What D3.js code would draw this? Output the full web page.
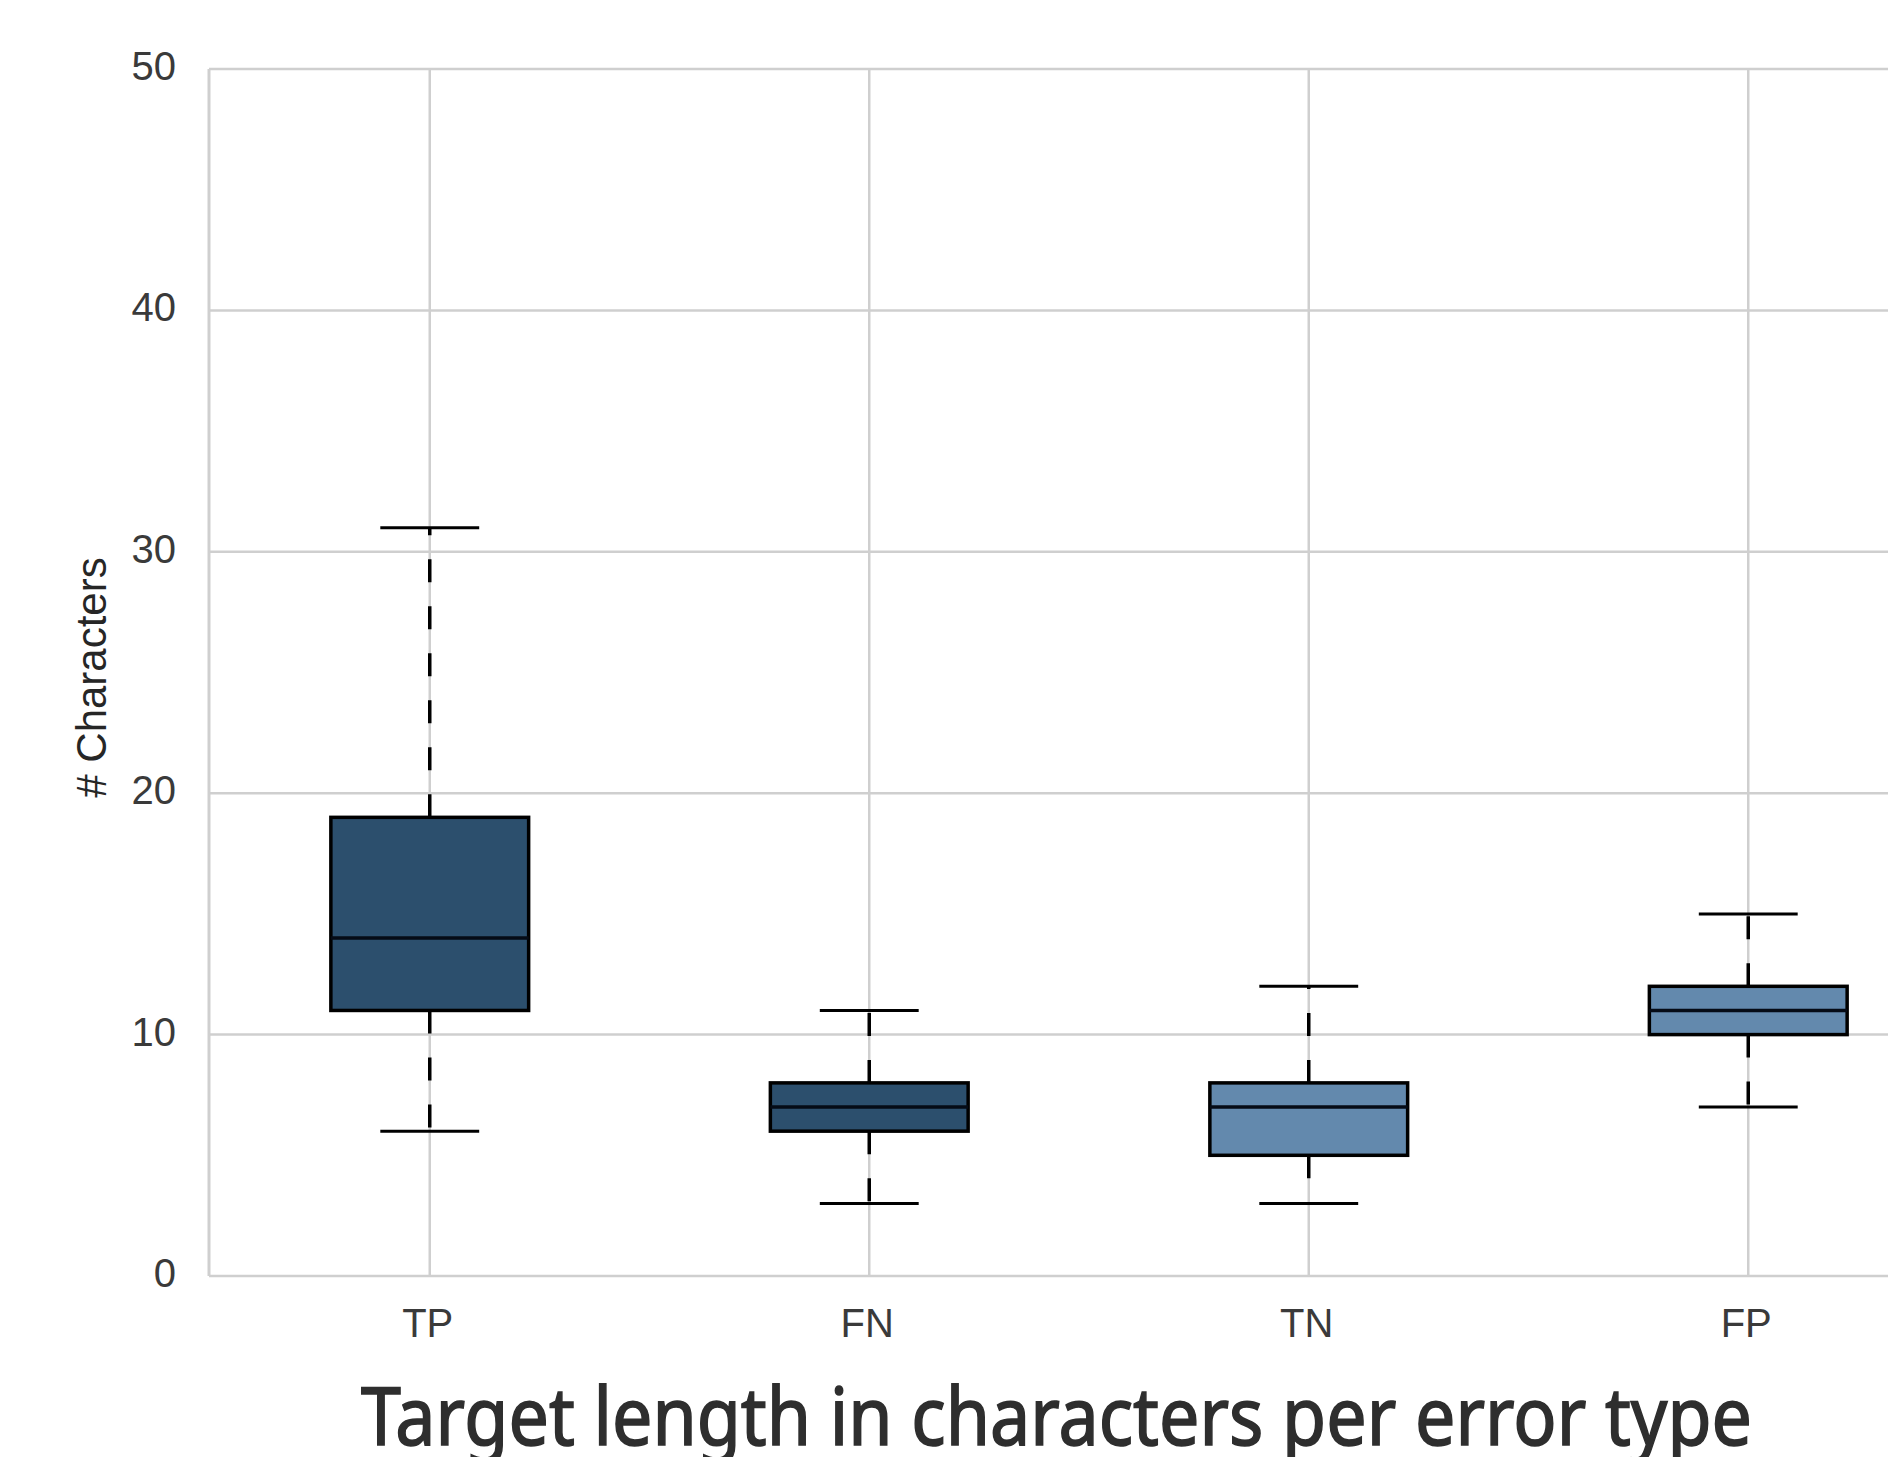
<!DOCTYPE html>
<html>
<head>
<meta charset="utf-8">
<script src="https://cdn.jsdelivr.net/npm/d3@7"></script>
<style>
  html, body { margin: 0; padding: 0; background: #fff; overflow: hidden; }
  text { font-family: "Liberation Sans", Arial, sans-serif; }
</style>
</head>
<body>
<div id="chart"></div>
<script>

var categories = ["TP", "FN", "TN", "FP"]
var whiskerLow = [6, 3, 3, 7]
var q1 = [11, 6, 5, 10]
var median = [14, 7, 7, 11]
var q3 = [19, 8, 8, 12]
var whiskerHigh = [31, 11, 12, 15]
var yTicks = [0, 10, 20, 30, 40, 50]

var palette = ["#2c4f6d", "#2c4f6d", "#6389ad", "#6389ad"]

var width = 1888
var height = 1457

var plot = {left: 209, top: 69, bottom: 1276, right: 1968}

var svg = d3.select("#chart").append("svg")
    .attr("width", width)
    .attr("height", height)

var x = d3.scalePoint()
    .domain(categories)
    .range([plot.left + 1, plot.right])
    .padding(0.5)

var y = d3.scaleLinear()
    .domain([0, 50])
    .range([plot.bottom, plot.top])

var boxW = x.step() * 0.45
var capW = boxW * 0.5

var grid = svg.append("g")

// horizontal grid
grid.selectAll(".hgrid")
    .data(yTicks)
    .enter().append("line")
    .attr("x1", plot.left)
    .attr("x2", plot.right)
    .attr("y1", d => y(d))
    .attr("y2", d => y(d))
    .attr("stroke", "#cfcfcf")
    .attr("stroke-width", 2.5)

// vertical grid
grid.selectAll(".vgrid")
    .data(categories)
    .enter().append("line")
    .attr("x1", d => x(d))
    .attr("x2", d => x(d))
    .attr("y1", plot.top)
    .attr("y2", plot.bottom)
    .attr("stroke", "#cfcfcf")
    .attr("stroke-width", 2.5)

// left spine
grid.append("line")
    .attr("x1", plot.left).attr("x2", plot.left)
    .attr("y1", plot.top).attr("y2", plot.bottom)
    .attr("stroke", "#cfcfcf")
    .attr("stroke-width", 3)

// y tick labels
svg.append("g").selectAll("text")
    .data(yTicks)
    .enter().append("text")
    .attr("x", 176)
    .attr("y", d => y(d) - 3)
    .attr("dy", "0.35em")
    .attr("text-anchor", "end")
    .attr("font-size", 40)
    .attr("fill", "#3a3a3a")
    .text(d => d)

// x tick labels
svg.append("g").selectAll("text")
    .data(categories)
    .enter().append("text")
    .attr("x", d => x(d) - 2)
    .attr("y", 1337)
    .attr("text-anchor", "middle")
    .attr("font-size", 40)
    .attr("fill", "#3a3a3a")
    .text(d => d)

// y axis label
svg.append("text")
    .attr("transform", "translate(106," + ((plot.top + plot.bottom) / 2 + 5) + ") rotate(-90)")
    .attr("text-anchor", "middle")
    .attr("font-size", 42)
    .attr("fill", "#262626")
    .text("# Characters")

var boxes = svg.append("g").selectAll("g")
    .data(categories)
    .enter().append("g")

// whiskers, dashed from the box out to the cap
boxes.append("line")
    .attr("x1", d => x(d)).attr("x2", d => x(d))
    .attr("y1", (d, i) => y(q3[i]))
    .attr("y2", (d, i) => y(whiskerHigh[i]))
    .attr("stroke", "#000")
    .attr("stroke-width", 3.5)
    .attr("stroke-dasharray", "23,24")

boxes.append("line")
    .attr("x1", d => x(d)).attr("x2", d => x(d))
    .attr("y1", (d, i) => y(q1[i]))
    .attr("y2", (d, i) => y(whiskerLow[i]))
    .attr("stroke", "#000")
    .attr("stroke-width", 3.5)
    .attr("stroke-dasharray", "23,24")

// caps
boxes.append("line")
    .attr("x1", d => x(d) - capW / 2).attr("x2", d => x(d) + capW / 2)
    .attr("y1", (d, i) => y(whiskerHigh[i]))
    .attr("y2", (d, i) => y(whiskerHigh[i]))
    .attr("stroke", "#000")
    .attr("stroke-width", 3)

boxes.append("line")
    .attr("x1", d => x(d) - capW / 2).attr("x2", d => x(d) + capW / 2)
    .attr("y1", (d, i) => y(whiskerLow[i]))
    .attr("y2", (d, i) => y(whiskerLow[i]))
    .attr("stroke", "#000")
    .attr("stroke-width", 3)

// boxes
boxes.append("rect")
    .attr("x", d => x(d) - boxW / 2)
    .attr("width", boxW)
    .attr("y", (d, i) => y(q3[i]))
    .attr("height", (d, i) => y(q1[i]) - y(q3[i]))
    .attr("fill", (d, i) => palette[i])
    .attr("stroke", "#000")
    .attr("stroke-width", 3.5)

// medians
boxes.append("line")
    .attr("x1", d => x(d) - boxW / 2).attr("x2", d => x(d) + boxW / 2)
    .attr("y1", (d, i) => y(median[i]))
    .attr("y2", (d, i) => y(median[i]))
    .attr("stroke", "#050b16")
    .attr("stroke-width", 3.5)

// title under the chart (regular face thickened a little with a stroke)
svg.append("text")
    .attr("x", 361)
    .attr("y", 1445)
    .attr("font-size", 80)
    .attr("fill", "#2e2e2e")
    .attr("stroke", "#2e2e2e")
    .attr("stroke-width", 1.6)
    .attr("textLength", 1391)
    .attr("lengthAdjust", "spacingAndGlyphs")
    .style("font-family", "'Noto Sans', 'Open Sans', sans-serif")
    .text("Target length in characters per error type")

</script>
</body>
</html>
